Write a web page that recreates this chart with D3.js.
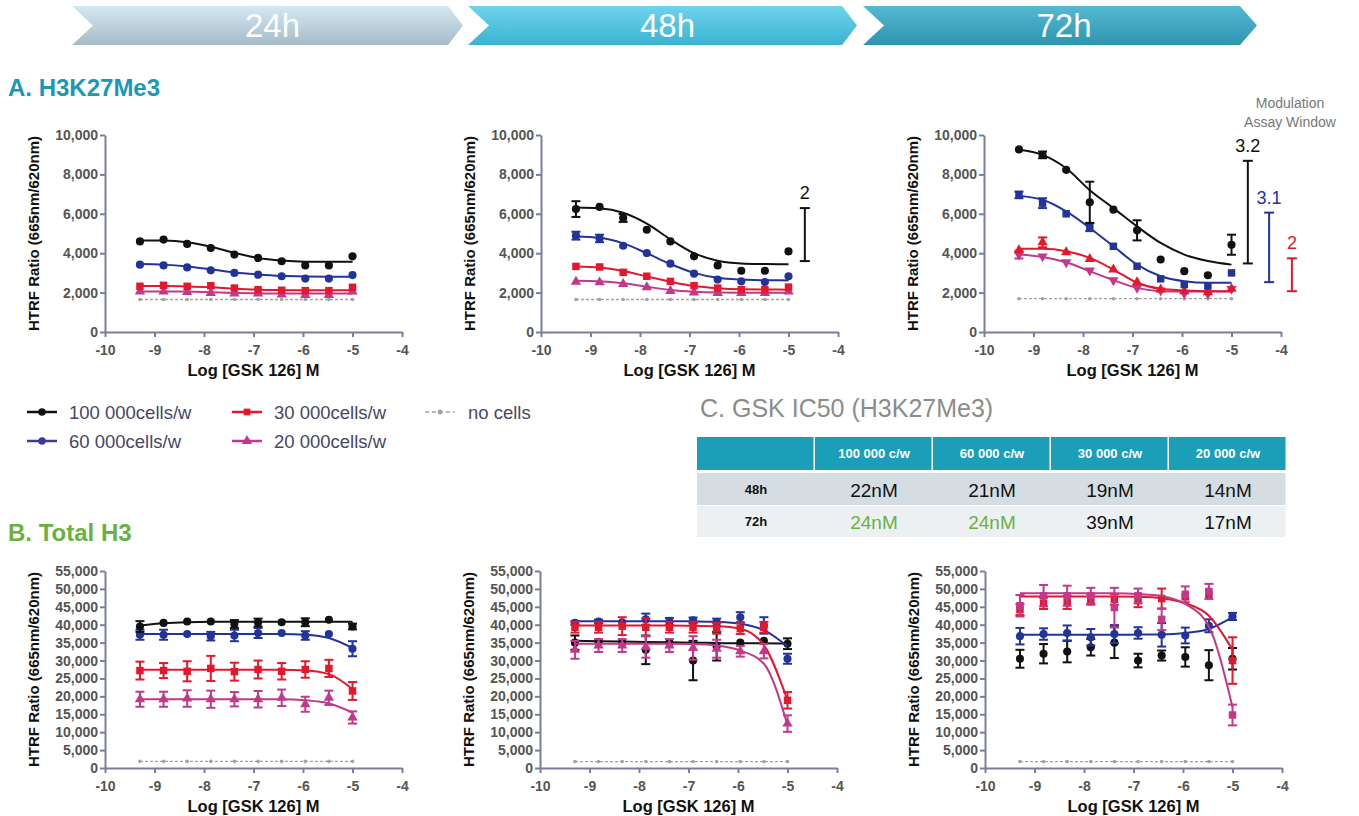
<!DOCTYPE html>
<html>
<head>
<meta charset="utf-8">
<script src="https://cdn.jsdelivr.net/npm/d3@7"></script>
<style>
  body { margin: 0; background: #fff; }
  svg { display: block; }
  text { font-family: "Liberation Sans", Arial, sans-serif; }
</style>
</head>
<body>
<svg id="fig" width="1359" height="816"></svg>
<script>
// ---- data ----
const logConc = [-9.294, -8.817, -8.340, -7.863, -7.386, -6.908, -6.431, -5.954, -5.477, -5.0];
const xTicks = [-10, -9, -8, -7, -6, -5, -4];
const yTicksA = [0, 2000, 4000, 6000, 8000, 10000];
const yTicksB = [0, 5000, 10000, 15000, 20000, 25000, 30000, 35000, 40000, 45000, 50000, 55000];

const timeLabels = ['24h', '48h', '72h'];
const legendLabels = ['100 000cells/w', '60 000cells/w', '30 000cells/w', '20 000cells/w', 'no cells'];

// A. H3K27Me3 - 24h
const a24_100k     = [4600, 4690, 4470, 4260, 3930, 3760, 3590, 3380, 3380, 3840];
const a24_100k_fit = [4650, 4640, 4550, 4330, 4020, 3760, 3630, 3570, 3560, 3560];
const a24_60k      = [3420, 3380, 3280, 3130, 3000, 2910, 2830, 2710, 2710, 2890];
const a24_60k_fit  = [3450, 3420, 3330, 3180, 3020, 2920, 2850, 2820, 2810, 2810];
const a24_30k      = [2320, 2370, 2320, 2350, 2230, 2150, 2120, 2100, 2100, 2270];
const a24_30k_fit  = [2330, 2330, 2310, 2270, 2200, 2150, 2130, 2120, 2120, 2120];
const a24_20k      = [2060, 2050, 2030, 1980, 1950, 1950, 1900, 1880, 1880, 2060];
const a24_20k_fit  = [2060, 2060, 2050, 2020, 1980, 1960, 1950, 1950, 1950, 1950];
const a24_none     = [1650, 1650, 1650, 1650, 1650, 1650, 1650, 1650, 1650, 1650];

// A. H3K27Me3 - 48h
const a48_100k     = [6240, 6350, 5790, 5190, 4600, 3840, 3380, 3110, 3110, 4090];
const a48_100k_sd  = [400, 0, 200, 0, 0, 0, 0, 0, 0, 0];
const a48_100k_fit = [6320, 6280, 6050, 5500, 4700, 4000, 3620, 3480, 3450, 3440];
const a48_60k      = [4890, 4750, 4380, 4010, 3470, 2960, 2660, 2570, 2540, 2830];
const a48_60k_sd   = [200, 190, 0, 0, 0, 0, 0, 0, 0, 0];
const a48_60k_fit  = [4850, 4780, 4500, 4000, 3450, 3000, 2750, 2660, 2630, 2620];
const a48_30k      = [3330, 3300, 3030, 2830, 2570, 2350, 2230, 2150, 2150, 2280];
const a48_30k_fit  = [3330, 3280, 3100, 2820, 2550, 2330, 2220, 2170, 2160, 2150];
const a48_20k      = [2550, 2520, 2440, 2270, 2080, 2010, 1980, 1980, 1980, 2060];
const a48_20k_fit  = [2600, 2570, 2470, 2300, 2130, 2040, 2000, 1990, 1990, 1990];
const a48_none     = [1650, 1650, 1650, 1650, 1650, 1650, 1650, 1650, 1650, 1650];

// A. H3K27Me3 - 72h
const a72_100k     = [9270, 8990, 8230, 6580, 6210, 5160, 3680, 3090, 2880, 4430];
const a72_100k_sd  = [0, 170, 0, 1050, 0, 510, 0, 0, 0, 510];
const a72_100k_fit = [9250, 8990, 8310, 7200, 6290, 5360, 4520, 3930, 3600, 3420];
const a72_60k      = [6960, 6540, 6000, 5330, 4350, 3340, 2700, 2410, 2330, 3000];
const a72_60k_sd   = [170, 250, 0, 210, 0, 0, 0, 0, 0, 0];
const a72_60k_fit  = [6910, 6710, 6120, 5280, 4350, 3420, 2830, 2580, 2500, 2500];
const a72_30k      = [4150, 4550, 4050, 3710, 3170, 2530, 2160, 2070, 2020, 2190];
const a72_30k_sd   = [0, 250, 0, 0, 0, 0, 0, 0, 0, 0];
const a72_30k_fit  = [4220, 4220, 4100, 3760, 3170, 2500, 2190, 2110, 2070, 2070];
const a72_20k      = [3930, 3840, 3540, 3120, 2630, 2240, 2110, 1960, 1940, 2190];
const a72_20k_sd   = [200, 0, 0, 0, 0, 0, 0, 0, 0, 0];
const a72_20k_fit  = [3930, 3810, 3540, 3090, 2630, 2240, 2070, 2050, 2050, 2050];
const a72_none     = [1690, 1690, 1690, 1690, 1690, 1690, 1690, 1690, 1690, 1690];

// assay window brackets: [x, low, high, label]
const a48_windows = [[-4.67, 3600, 6290, '2']];
const a72_windows = [[-4.67, 3480, 8690, '3.2'], [-4.24, 2530, 6060, '3.1'], [-3.78, 2070, 3740, '2']];

// B. Total H3 - 24h
const b24_100k     = [39500, 40500, 40900, 40900, 40200, 40600, 40700, 40700, 41400, 39500];
const b24_100k_sd  = [1500, 0, 0, 0, 1100, 1100, 0, 1100, 0, 800];
const b24_100k_fit = [39800, 40400, 40700, 40800, 40800, 40800, 40800, 40800, 40800, 40800];
const b24_60k      = [37200, 37200, 37400, 36800, 37000, 37700, 37700, 37000, 37400, 33300];
const b24_60k_sd   = [1400, 1400, 0, 1200, 1600, 1400, 0, 1200, 0, 2100];
const b24_60k_fit  = [37400, 37400, 37400, 37400, 37400, 37400, 37400, 37200, 36300, 33500];
const b24_30k      = [27200, 27200, 27000, 27800, 26900, 27500, 27000, 27500, 27800, 21500];
const b24_30k_sd   = [2500, 2100, 2800, 3500, 2500, 2500, 2300, 2300, 2400, 2500];
const b24_30k_fit  = [27400, 27400, 27400, 27400, 27400, 27400, 27400, 27200, 26200, 22000];
const b24_20k      = [19200, 19200, 19400, 19200, 19200, 19200, 19600, 17800, 19600, 14100];
const b24_20k_sd   = [2100, 2100, 2300, 2400, 2000, 2300, 2300, 2100, 2000, 1700];
const b24_20k_fit  = [19200, 19200, 19200, 19200, 19200, 19200, 19200, 18900, 18000, 15500];
const b24_none     = [1850, 1850, 1850, 1850, 1850, 1850, 1850, 1850, 1850, 1850];

// B. Total H3 - 48h
const b48_100k     = [35000, 35200, 35000, 33000, 35000, 30000, 34000, 35000, 35500, 34700];
const b48_100k_sd  = [2000, 0, 0, 4000, 0, 5500, 4000, 0, 0, 1500];
const b48_100k_fit = [35500, 35400, 35300, 35200, 35100, 35000, 34900, 34800, 34800, 34700];
const b48_60k      = [40500, 40900, 40700, 41500, 40900, 41200, 40700, 42100, 39800, 30500];
const b48_60k_sd   = [500, 500, 0, 1600, 1000, 800, 1000, 1400, 2300, 1400];
const b48_60k_fit  = [41000, 41000, 41000, 41000, 41000, 40950, 40800, 40300, 38500, 34000];
const b48_30k      = [39300, 39300, 39600, 39300, 39300, 39300, 39000, 38900, 39300, 18900];
const b48_30k_sd   = [1500, 1500, 2500, 2500, 1500, 1500, 1500, 1500, 1500, 2300];
const b48_30k_fit  = [39800, 39800, 39800, 39800, 39800, 39700, 39600, 38900, 34300, 18900];
const b48_20k      = [33000, 34200, 34200, 33800, 34200, 33500, 33300, 32600, 32600, 12400];
const b48_20k_sd   = [2500, 1800, 1800, 3000, 1800, 3300, 2500, 1500, 2000, 2300];
const b48_20k_fit  = [34700, 34700, 34700, 34700, 34700, 34600, 34200, 32800, 29100, 12000];
const b48_none     = [1800, 1800, 1800, 1800, 1800, 1800, 1800, 1800, 1800, 1800];

// B. Total H3 - 72h
const b72_100k     = [30500, 31900, 32500, 33700, 35000, 30000, 31400, 31000, 28700, 30500];
const b72_100k_sd  = [2500, 2700, 3000, 2300, 4300, 1900, 1400, 2700, 4200, 3000];
const b72_60k      = [36800, 37400, 37700, 36500, 37400, 37700, 37200, 37000, 39700, 42300];
const b72_60k_sd   = [2300, 1600, 2100, 2300, 2500, 1600, 3300, 2200, 1800, 1000];
const b72_60k_fit  = [37200, 37200, 37200, 37200, 37200, 37250, 37300, 37700, 38800, 42100];
const b72_30k      = [44200, 46000, 46200, 47100, 47100, 46700, 47300, 47800, 48500, 30000];
const b72_30k_sd   = [1500, 1600, 1800, 1500, 1500, 1800, 2800, 0, 0, 6500];
const b72_30k_fit  = [47900, 47900, 47900, 47900, 47900, 47800, 47400, 46000, 42500, 33000];
const b72_20k      = [45300, 48100, 48100, 48100, 44800, 48100, 41500, 48500, 49300, 14800];
const b72_20k_sd   = [3000, 3000, 2800, 2200, 5500, 2000, 3000, 2200, 2100, 2900];
const b72_20k_fit  = [48800, 48800, 48800, 48800, 48800, 48600, 48000, 45800, 39500, 17000];
const b72_none     = [1800, 1800, 1800, 1800, 1800, 1800, 1800, 1800, 1800, 1800];

// C. IC50 table
const tableCols = ['100 000 c/w', '60 000 c/w', '30 000 c/w', '20 000 c/w'];
const tableRows = ['48h', '72h'];
const ic50_48h = ['22nM', '21nM', '19nM', '14nM'];
const ic50_72h = ['24nM', '24nM', '39nM', '17nM'];
const ic50_72h_hi = [true, true, false, false];

// ---- styles ----
const col = {
  black: '#111111', blue: '#22349a', red: '#e5172c', pink: '#c2388a',
  gray: '#a2a2a2', axis: '#7c7c9c', tick: '#555555'
};
const W = 297, H = 197;

const svg = d3.select('#fig');
const defs = svg.append('defs');

// ---- banner chevrons ----
const chevrons = [
  {l: 72,  sh: 448,  tip: 463,  c0: '#d4e8f4', c1: '#a6bac7'},
  {l: 468, sh: 842,  tip: 857,  c0: '#70d3ec', c1: '#3ab3d2'},
  {l: 863, sh: 1240, tip: 1257, c0: '#55b9d2', c1: '#2e95ae'}
];
chevrons.forEach((c, i) => {
  const gr = defs.append('linearGradient').attr('id', 'chev' + i)
    .attr('x1', 0).attr('y1', 0).attr('x2', 0).attr('y2', 1);
  gr.append('stop').attr('offset', '0%').attr('stop-color', c.c0);
  gr.append('stop').attr('offset', '100%').attr('stop-color', c.c1);
  const t = 6, b = 45, m = 25.5, n = 21;
  svg.append('path')
    .attr('d', `M${c.l},${t}L${c.sh},${t}L${c.tip},${m}L${c.sh},${b}L${c.l},${b}L${c.l + n},${m}Z`)
    .attr('fill', `url(#chev${i})`);
  svg.append('text')
    .attr('x', (c.l + n + c.sh) / 2 + 2).attr('y', 37)
    .attr('text-anchor', 'middle')
    .attr('fill', '#fff')
    .style('font-size', '33px')
    .text(timeLabels[i]);
});

// ---- section titles ----
svg.append('text').attr('x', 8).attr('y', 96)
  .attr('fill', '#1b98b5').style('font-size', '24px').style('font-weight', 'bold')
  .text('A. H3K27Me3');
svg.append('text').attr('x', 8).attr('y', 541)
  .attr('fill', '#6ab23e').style('font-size', '24px').style('font-weight', 'bold')
  .text('B. Total H3');
svg.append('text').attr('x', 700).attr('y', 417)
  .attr('fill', '#8c8c8c').style('font-size', '25px')
  .text('C. GSK IC50 (H3K27Me3)');

svg.append('text').attr('x', 1290).attr('y', 108).attr('text-anchor', 'middle')
  .attr('fill', '#777').style('font-size', '14px').text('Modulation');
svg.append('text').attr('x', 1290).attr('y', 127).attr('text-anchor', 'middle')
  .attr('fill', '#777').style('font-size', '14px').text('Assay Window');

// ---- panels ----
const S = (pts, sd, fit, color, shape) => ({pts, sd, fit, color, shape});
const panels = [
  {left: 105, top: 135, yMax: 10000, yTicks: yTicksA, none: a24_none, windows: [], series: [
    S(a24_20k, null, a24_20k_fit, col.pink, 'tri'),
    S(a24_30k, null, a24_30k_fit, col.red, 'square'),
    S(a24_60k, null, a24_60k_fit, col.blue, 'circle'),
    S(a24_100k, null, a24_100k_fit, col.black, 'circle')]},
  {left: 541, top: 135, yMax: 10000, yTicks: yTicksA, none: a48_none, windows: a48_windows, wColors: [col.black], series: [
    S(a48_20k, null, a48_20k_fit, col.pink, 'tri'),
    S(a48_30k, null, a48_30k_fit, col.red, 'square'),
    S(a48_60k, a48_60k_sd, a48_60k_fit, col.blue, 'circle'),
    S(a48_100k, a48_100k_sd, a48_100k_fit, col.black, 'circle')]},
  {left: 984, top: 135, yMax: 10000, yTicks: yTicksA, none: a72_none, windows: a72_windows, wColors: [col.black, col.blue, col.red], series: [
    S(a72_20k, a72_20k_sd, a72_20k_fit, col.pink, 'triDown'),
    S(a72_30k, a72_30k_sd, a72_30k_fit, col.red, 'tri'),
    S(a72_60k, a72_60k_sd, a72_60k_fit, col.blue, 'square'),
    S(a72_100k, a72_100k_sd, a72_100k_fit, col.black, 'circle')]},
  {left: 105, top: 571, yMax: 55000, yTicks: yTicksB, none: b24_none, windows: [], series: [
    S(b24_20k, b24_20k_sd, b24_20k_fit, col.pink, 'tri'),
    S(b24_30k, b24_30k_sd, b24_30k_fit, col.red, 'square'),
    S(b24_60k, b24_60k_sd, b24_60k_fit, col.blue, 'circle'),
    S(b24_100k, b24_100k_sd, b24_100k_fit, col.black, 'circle')]},
  {left: 540, top: 571, yMax: 55000, yTicks: yTicksB, none: b48_none, windows: [], series: [
    S(b48_100k, b48_100k_sd, b48_100k_fit, col.black, 'circle'),
    S(b48_60k, b48_60k_sd, b48_60k_fit, col.blue, 'circle'),
    S(b48_30k, b48_30k_sd, b48_30k_fit, col.red, 'square'),
    S(b48_20k, b48_20k_sd, b48_20k_fit, col.pink, 'tri')]},
  {left: 985, top: 571, yMax: 55000, yTicks: yTicksB, none: b72_none, windows: [], series: [
    S(b72_100k, b72_100k_sd, null, col.black, 'circle'),
    S(b72_60k, b72_60k_sd, b72_60k_fit, col.blue, 'circle'),
    S(b72_30k, b72_30k_sd, b72_30k_fit, col.red, 'square'),
    S(b72_20k, b72_20k_sd, b72_20k_fit, col.pink, 'square')]}
];

const symType = {circle: d3.symbolCircle, square: d3.symbolSquare, tri: d3.symbolTriangle, triDown: d3.symbolTriangle};
const symSize = {circle: 52, square: 56, tri: 46, triDown: 46};

function drawPanel(p) {
  const g = svg.append('g').attr('transform', `translate(${p.left},${p.top})`);
  const x = d3.scaleLinear().domain([-10, -4]).range([0, W]);
  const y = d3.scaleLinear().domain([0, p.yMax]).range([H, 0]);

  const yAx = g.append('g')
    .call(d3.axisLeft(y).tickValues(p.yTicks).tickFormat(d3.format(',')).tickSize(5).tickSizeOuter(0).tickPadding(2));
  const xAx = g.append('g').attr('transform', `translate(0,${H})`)
    .call(d3.axisBottom(x).tickValues(xTicks).tickFormat(d => String(d)).tickSize(5).tickSizeOuter(0).tickPadding(8));
  [yAx, xAx].forEach(a => {
    a.select('.domain').attr('stroke', col.axis).attr('stroke-width', 2);
    a.selectAll('.tick line').attr('stroke', col.axis).attr('stroke-width', 2);
    a.selectAll('.tick text').attr('fill', col.tick)
      .style('font-size', '14px').style('font-weight', 'bold')
      .style('font-family', '"Liberation Sans", Arial, sans-serif');
  });

  g.append('text')
    .attr('transform', `translate(-72,${H / 2}) rotate(-90)`)
    .attr('text-anchor', 'middle').attr('dominant-baseline', 'central')
    .style('font-size', '15px').style('font-weight', 'bold').attr('fill', '#111')
    .text('HTRF Ratio (665nm/620nm)');
  g.append('text')
    .attr('x', W / 2).attr('y', H + 38)
    .attr('text-anchor', 'middle').attr('dominant-baseline', 'central')
    .style('font-size', '16.5px').style('font-weight', 'bold').attr('fill', '#111')
    .text('Log [GSK 126] M');

  // no cells
  const noneLine = d3.line().x((d, i) => x(logConc[i])).y(d => y(d));
  g.append('path').datum(p.none).attr('d', noneLine)
    .attr('fill', 'none').attr('stroke', col.gray).attr('stroke-width', 1.3).attr('stroke-dasharray', '3,2');
  g.selectAll('.nc').data(p.none).join('circle')
    .attr('cx', (d, i) => x(logConc[i])).attr('cy', d => y(d)).attr('r', 1.8).attr('fill', col.gray);

  const fitLine = d3.line().curve(d3.curveMonotoneX).x((d, i) => x(logConc[i])).y(d => y(d));

  p.series.forEach(s => {
    const sg = g.append('g');
    if (s.fit) {
      sg.append('path').datum(s.fit).attr('d', fitLine)
        .attr('fill', 'none').attr('stroke', s.color).attr('stroke-width', 2);
    }
    if (s.sd) {
      const eb = sg.selectAll('.eb').data(s.pts.map((v, i) => ({v, e: s.sd[i], i})).filter(d => d.e > 0))
        .join('g').attr('stroke', s.color).attr('stroke-width', 2);
      eb.append('line')
        .attr('x1', d => x(logConc[d.i])).attr('x2', d => x(logConc[d.i]))
        .attr('y1', d => y(d.v - d.e)).attr('y2', d => y(d.v + d.e));
      [1, -1].forEach(sgn => {
        eb.append('line')
          .attr('x1', d => x(logConc[d.i]) - 4.5).attr('x2', d => x(logConc[d.i]) + 4.5)
          .attr('y1', d => y(d.v + sgn * d.e)).attr('y2', d => y(d.v + sgn * d.e));
      });
    }
    sg.selectAll('.pt').data(s.pts).join('path')
      .attr('d', d3.symbol().type(symType[s.shape]).size(symSize[s.shape]))
      .attr('transform', (d, i) => `translate(${x(logConc[i])},${y(d)})${s.shape === 'triDown' ? ' rotate(180)' : ''}`)
      .attr('fill', s.color);
  });

  // assay window brackets
  p.windows.forEach((w, k) => {
    const c = p.wColors[k];
    const wx = x(w[0]);
    const wg = g.append('g').attr('stroke', c).attr('stroke-width', 2);
    wg.append('line').attr('x1', wx).attr('x2', wx).attr('y1', y(w[1])).attr('y2', y(w[2]));
    wg.append('line').attr('x1', wx - 5).attr('x2', wx + 5).attr('y1', y(w[1])).attr('y2', y(w[1]));
    wg.append('line').attr('x1', wx - 5).attr('x2', wx + 5).attr('y1', y(w[2])).attr('y2', y(w[2]));
    g.append('text').attr('x', wx).attr('y', y(w[2]) - 9)
      .attr('text-anchor', 'middle').attr('fill', c).style('font-size', '18px')
      .text(w[3]);
  });
}
panels.forEach(drawPanel);

// ---- legend ----
const legendItems = [
  {x: 27,  y: 412, color: col.black, shape: 'circle', dash: null},
  {x: 27,  y: 441, color: '#3c3c96', shape: 'circle', dash: null},
  {x: 232, y: 412, color: col.red, shape: 'square', dash: null},
  {x: 232, y: 441, color: col.pink, shape: 'tri', dash: null},
  {x: 425, y: 412, color: col.gray, shape: 'circle', dash: '4,3'}
];
legendItems.forEach((it, i) => {
  const lg = svg.append('g').attr('transform', `translate(${it.x},${it.y})`);
  lg.append('line').attr('x1', 0).attr('x2', 30).attr('y1', 0).attr('y2', 0)
    .attr('stroke', it.color).attr('stroke-width', it.dash ? 1.5 : 2.5)
    .attr('stroke-dasharray', it.dash);
  lg.append('path').attr('transform', 'translate(15,0)')
    .attr('d', d3.symbol().type(symType[it.shape]).size(it.dash ? 18 : 45))
    .attr('fill', it.color);
  lg.append('text').attr('x', it.dash ? 43 : 42).attr('y', 0).attr('dominant-baseline', 'central')
    .attr('fill', '#474768').style('font-size', '18.5px')
    .text(legendLabels[i]);
});

// ---- IC50 table ----
const tX = 697, colW = 118;
const rowsY = [{y: 437, h: 33}, {y: 473, h: 32}, {y: 506, h: 31}];
const tg = svg.append('g');
// header
d3.range(5).forEach(c => {
  tg.append('rect').attr('x', tX + c * colW).attr('y', rowsY[0].y)
    .attr('width', colW - 1.5).attr('height', rowsY[0].h).attr('fill', '#1b9fb9');
});
tg.selectAll('.hd').data(tableCols).join('text')
  .attr('x', (d, i) => tX + (i + 1) * colW + colW / 2).attr('y', rowsY[0].y + rowsY[0].h / 2)
  .attr('text-anchor', 'middle').attr('dominant-baseline', 'central')
  .attr('fill', '#fff').style('font-size', '13px').style('font-weight', 'bold')
  .text(d => d);
[ic50_48h, ic50_72h].forEach((vals, r) => {
  const ry = rowsY[r + 1];
  tg.append('rect').attr('x', tX).attr('y', ry.y).attr('width', 5 * colW - 1.5).attr('height', ry.h)
    .attr('fill', r === 0 ? '#d5dde2' : '#edf0f2');
  tg.append('text').attr('x', tX + colW / 2).attr('y', ry.y + ry.h / 2)
    .attr('text-anchor', 'middle').attr('dominant-baseline', 'central')
    .attr('fill', '#111').style('font-size', '13px').style('font-weight', 'bold')
    .text(tableRows[r]);
  tg.selectAll('.v' + r).data(vals).join('text')
    .attr('x', (d, i) => tX + (i + 1) * colW + colW / 2).attr('y', ry.y + ry.h / 2 + 1)
    .attr('text-anchor', 'middle').attr('dominant-baseline', 'central')
    .attr('fill', (d, i) => (r === 1 && ic50_72h_hi[i]) ? '#6ab23e' : '#111')
    .style('font-size', '19px')
    .text(d => d);
});
</script>
</body>
</html>
